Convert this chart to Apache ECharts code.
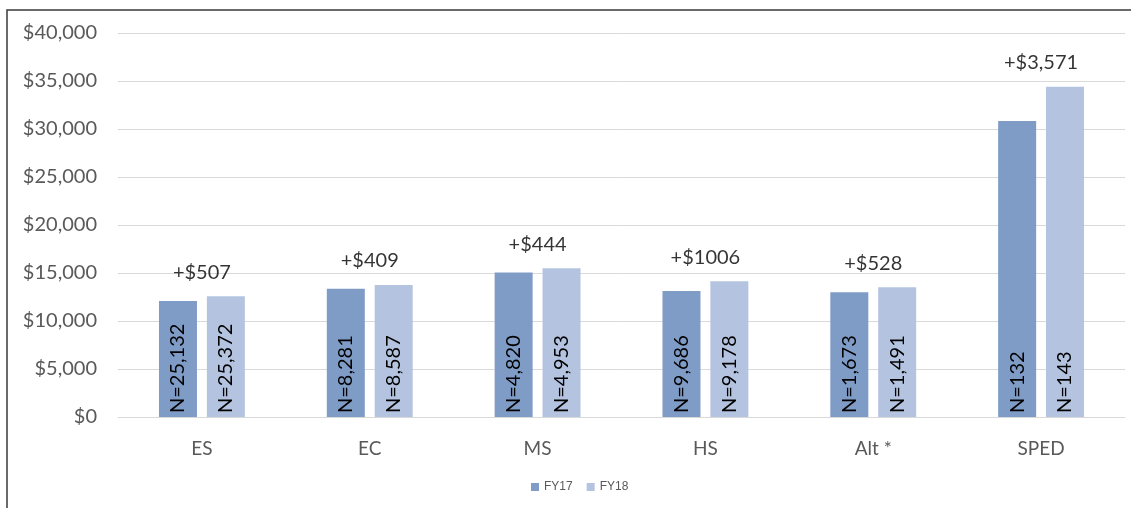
<!DOCTYPE html>
<html>
<head>
<meta charset="utf-8">
<script src="https://cdn.jsdelivr.net/npm/echarts@6/dist/echarts.min.js"></script>
<style>
  html, body { margin: 0; padding: 0; background: #fff; }
  #chart { width: 1131px; height: 508px; }
</style>
</head>
<body>
<div id="chart"></div>
<script>
let categories = ["ES", "EC", "MS", "HS", "Alt *", "SPED"];
let fy17 = [12080, 13350, 15050, 13130, 12990, 30840];
let fy18 = [12590, 13760, 15490, 14140, 13520, 34410];
let n17 = ["N=25,132", "N=8,281", "N=4,820", "N=9,686", "N=1,673", "N=132"];
let n18 = ["N=25,372", "N=8,587", "N=4,953", "N=9,178", "N=1,491", "N=143"];
let diffs = ["+$507", "+$409", "+$444", "+$1006", "+$528", "+$3,571"];
let yTicks = [0, 5000, 10000, 15000, 20000, 25000, 30000, 35000, 40000];

let chart = echarts.init(document.getElementById("chart"));
let font = "Lato, 'Open Sans', sans-serif";
let color = ["rgb(127, 156, 199)", "rgb(180, 196, 224)"];

let nLabel = (texts) => ({
  show: true,
  position: "insideBottom",
  rotate: 90,
  align: "left",
  verticalAlign: "middle",
  distance: 4,
  color: "#000",
  fontFamily: font,
  fontSize: 20,
  formatter: (p) => texts[p.dataIndex],
});

let option = {
  animation: false,
  textStyle: { fontFamily: font },
  grid: { left: 118, right: 6, top: 33, bottom: 91 },
  legend: {
    data: ["FY17", "FY18"],
    bottom: 10,
    left: 526,
    itemWidth: 8,
    itemHeight: 8,
    itemGap: 14,
    icon: "rect",
    textStyle: { color: "#595959", fontSize: 12, fontFamily: "'Liberation Sans', Arial, sans-serif" },
  },
  xAxis: {
    type: "category",
    data: categories,
    axisTick: { show: false },
    axisLine: { lineStyle: { color: "#d9d9d9" } },
    axisLabel: { color: "#595959", fontSize: 19, margin: 22, fontFamily: font },
  },
  yAxis: {
    type: "value",
    min: yTicks[0],
    max: yTicks[yTicks.length - 1],
    interval: 5000,
    axisLine: { show: false },
    axisTick: { show: false },
    splitLine: { lineStyle: { color: "#d9d9d9" } },
    axisLabel: {
      color: "#595959",
      fontSize: 20,
      margin: 21,
      fontFamily: font,
      formatter: (v) => "$" + v.toLocaleString("en-US"),
    },
  },
  series: [
    {
      name: "FY17",
      type: "bar",
      color: color[0],
      data: fy17,
      barWidth: 38,
      barGap: "26%",
      label: nLabel(n17),
    },
    {
      name: "FY18",
      type: "bar",
      color: color[1],
      data: fy18,
      barWidth: 38,
      label: nLabel(n18),
    },
    {
      name: "diff",
      type: "scatter",
      symbolSize: 0,
      data: fy17.map((v, i) => Math.max(v, fy18[i])),
      label: {
        show: true,
        position: "top",
        distance: 14,
        color: "#000",
        fontSize: 20,
        fontFamily: font,
        formatter: (p) => diffs[p.dataIndex],
      },
      silent: true,
    },
  ],
  graphic: [
    {
      type: "polyline",
      shape: { points: [[7, 520], [7, 10], [1140, 10]] },
      style: { stroke: "#3a3a3a", lineWidth: 1.5, fill: null },
      silent: true,
    },
  ],
};
chart.setOption(option);
</script>
</body>
</html>
